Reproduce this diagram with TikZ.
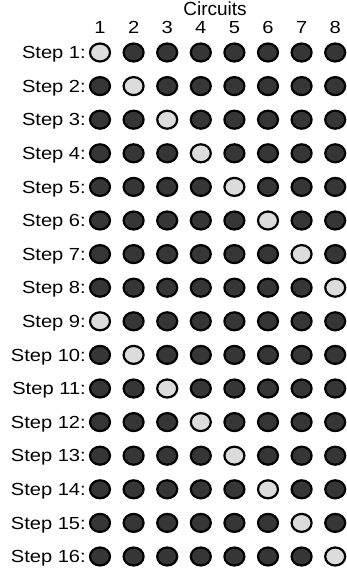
\documentclass[tikz,border=0pt]{standalone}
\usepackage{fontspec}
\setmainfont{Liberation Sans}
\newfontfamily\widefont{Liberation Sans}[FakeStretch=1.15]
\usetikzlibrary{shapes.geometric}
\definecolor{lampoff}{HTML}{363636}
\definecolor{lampon}{HTML}{DCDCDC}
\tikzset{
  lamp/.style={ellipse, draw=black, line width=2.2pt, minimum width=20pt, minimum height=18pt, inner sep=0pt},
  lampdark/.style={lamp, fill=lampoff},
  lamplight/.style={lamp, fill=lampon},
  lbl/.style={inner sep=0pt, font=\widefont\fontsize{17.5}{20}\selectfont},
}
\begin{document}
\begin{tikzpicture}[x=1pt, y=-1pt]
\useasboundingbox (0,0) rectangle (347,571);
% intestazione
\node[inner sep=0pt, anchor=base, font=\fontsize{19}{22}\selectfont] (title) at (215,15.8) {Circuits};
\foreach \c in {1,...,8}
  \node[lbl, anchor=base] (n\c) at ({100+33.6*(\c-1)},33) {\c};
% righe dei passi
\foreach \s in {1,...,16} {
  \node[lbl, anchor=base east] (s\s) at (86,{52.5+33.6*(\s-1)+6.2}) {Step \s:};
  \pgfmathtruncatemacro\on{mod(\s-1,8)+1}
  \foreach \c in {1,...,8} {
    \ifnum\c=\on
      \node[lamplight] (l\s-\c) at ({100+33.6*(\c-1)},{52.5+33.6*(\s-1)}) {};
    \else
      \node[lampdark] (l\s-\c) at ({100+33.6*(\c-1)},{52.5+33.6*(\s-1)}) {};
    \fi
  }
}
\end{tikzpicture}
\end{document}
